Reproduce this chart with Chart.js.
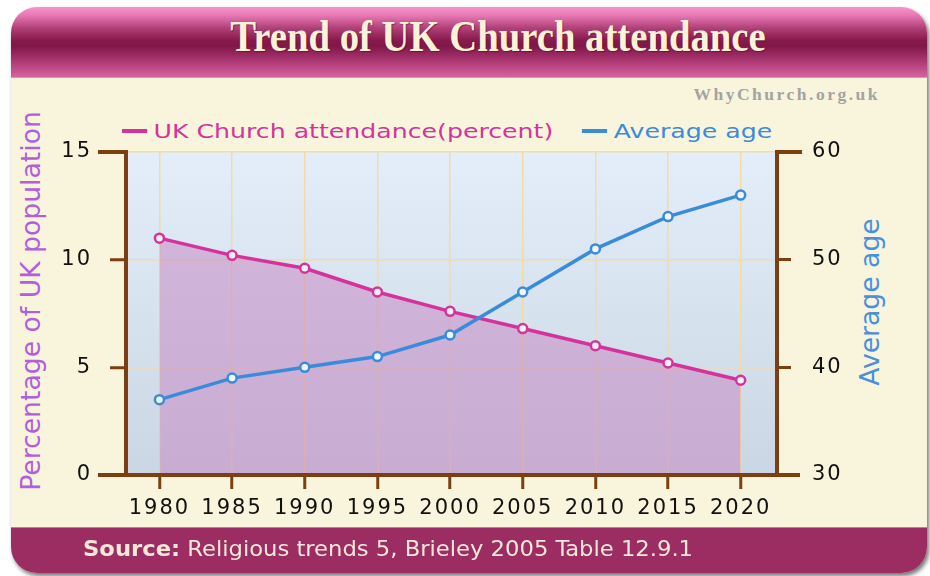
<!DOCTYPE html>
<html>
<head>
<meta charset="utf-8">
<title>Trend of UK Church attendance</title>
<script src="https://cdn.jsdelivr.net/npm/chart.js@4.4.1/dist/chart.umd.min.js"></script>
<style>
  html, body { margin: 0; padding: 0; background: #ffffff; }
  #page { position: relative; width: 930px; height: 576px; overflow: hidden; }
  #frame {
    position: absolute; left: 11px; top: 7px; width: 916px; height: 566px;
    border-radius: 26px; overflow: hidden; background: #f8f5dc;
    box-shadow: 2px 3px 4px rgba(0, 0, 0, 0.55);
  }
  #header {
    position: absolute; left: 0; top: 0; width: 100%; height: 70px;
    background: linear-gradient(to bottom, #f894c9 0%, #e878b4 12%, #b04077 30%, #87194c 48%, #7f1747 56%, #a8346f 75%, #d463a0 100%);
    border-bottom: 1px solid #e88fbf;
  }
  #footer {
    position: absolute; left: 0; bottom: 0; width: 100%; height: 45px;
    background: #9b2d62; border-top: 1px solid #c9779a;
  }
  #title {
    position: absolute; left: 498px; top: 14px; white-space: nowrap;
    font-family: "Liberation Serif", "Times New Roman", serif; font-weight: bold;
    font-size: 45px; line-height: 45px; color: #fcf3d6;
    transform: translateX(-50%) scaleX(0.86);
    text-shadow: 1px 1px 1px rgba(70, 0, 30, 0.45);
  }
  #watermark {
    position: absolute; right: 50px; top: 86px; white-space: nowrap;
    font-family: "Liberation Serif", serif; font-weight: bold;
    font-size: 17.5px; line-height: 17px; letter-spacing: 2.5px; color: #a3a3a3;
  }
  #legend {
    position: absolute; left: 122px; top: 121px; display: flex; gap: 23px;
    font-family: "DejaVu Sans", sans-serif; font-size: 20px; line-height: 20px;
    white-space: nowrap; transform: scaleX(1.26); transform-origin: 0 0;
  }
  .legend-item { display: flex; align-items: center; }
  .legend-marker { display: inline-block; width: 20px; height: 4px; margin-right: 5px; }
  .axisTitle {
    position: absolute; white-space: nowrap;
    font-family: "DejaVu Sans", sans-serif; font-size: 24px; line-height: 24px;
  }
  #leftTitle { left: 31px; top: 301px; color: #b15fdc; transform: translate(-50%, -50%) rotate(-90deg) scale(1.11, 1.12); }
  #rightTitle { left: 870px; top: 302px; color: #4a90dc; transform: translate(-50%, -50%) rotate(-90deg) scale(1.11, 1.12); }
  #myChart { position: absolute; left: 0; top: 0; }
  #source {
    position: absolute; left: 83px; top: 539px; white-space: nowrap;
    font-family: "DejaVu Sans Condensed", "DejaVu Sans", sans-serif; font-stretch: condensed;
    font-size: 21px; line-height: 21px; color: #f6e8d8;
    transform: scaleX(1.2); transform-origin: 0 0;
  }
</style>
</head>
<body>
<div id="page">
  <div id="frame">
    <div id="header"></div>
    <div id="footer"></div>
  </div>
  <div id="title">Trend of UK Church attendance</div>
  <div id="watermark">WhyChurch.org.uk</div>
  <div id="legend"></div>
  <div id="leftTitle" class="axisTitle">Percentage of UK population</div>
  <div id="rightTitle" class="axisTitle">Average age</div>
  <canvas id="myChart" width="930" height="576"></canvas>
  <div id="source"><b>Source:</b> Religious trends 5, Brieley 2005 Table 12.9.1</div>
</div>

<script>
//
// Data
//

var years = [1980, 1985, 1990, 1995, 2000, 2005, 2010, 2015, 2020];
var attendance = [11.0, 10.2, 9.6, 8.5, 7.6, 6.8, 6.0, 5.2, 4.4];
var averageAge = [37, 39, 40, 41, 43, 47, 51, 54, 56];

var seriesNames = ['UK Church attendance(percent)', 'Average age'];
var percentTicks = [0, 5, 10, 15];
var ageTicks = [30, 40, 50, 60];

// Colors
var pink = '#d5339b';
var blue = '#3b8bdb';
var brown = '#7b3f12';
var gridBeige = '#f3dba3';


//
// Methods
//

/**
 * Pair the years with a series for the linear x axis
 */
function toPoints(values) {
    return years.map(function (year, index) {
        return { x: year, y: values[index] };
    });
};


/**
 * Plot background, axis bracket ends and wider tick text
 */
var chartDecor = {
    id: 'chartDecor',
    beforeDraw: function (chart) {
        var a = chart.chartArea;
        var ctx = chart.ctx;
        var gradient = ctx.createLinearGradient(0, a.top, 0, a.bottom);
        gradient.addColorStop(0, '#e3eefa');
        gradient.addColorStop(1, '#cad6e3');
        ctx.save();
        ctx.fillStyle = gradient;
        ctx.fillRect(a.left, a.top, a.right - a.left, a.bottom - a.top);
        ctx.restore();
        ctx.letterSpacing = '2px';
    },
    afterDraw: function (chart) {
        var a = chart.chartArea;
        var ctx = chart.ctx;
        ctx.letterSpacing = '0px';
        ctx.save();
        ctx.strokeStyle = brown;
        ctx.lineWidth = 4;
        ctx.beginPath();
        ctx.moveTo(a.left - 28, a.top);
        ctx.lineTo(a.left + 2, a.top);
        ctx.moveTo(a.right - 2, a.top);
        ctx.lineTo(a.right + 25, a.top);
        ctx.moveTo(a.left - 28, a.bottom);
        ctx.lineTo(a.right + 23, a.bottom);
        ctx.stroke();
        ctx.restore();
    }
};


/**
 * Build the legend above the plot from the datasets
 */
function renderLegend(chart) {
    var legend = document.querySelector('#legend');
    legend.innerHTML = '';
    chart.data.datasets.forEach(function (dataset) {
        var item = document.createElement('span');
        item.className = 'legend-item';
        item.style.color = dataset.borderColor;
        item.innerHTML = '<span class="legend-marker" style="background:' + dataset.borderColor + '"></span>' + dataset.label;
        legend.appendChild(item);
    });
};


var tickFont = { family: 'DejaVu Sans', size: 21 };

var ctx = document.querySelector('#myChart').getContext('2d');
var chart = new Chart(ctx, {
    type: 'line',
    data: {
        datasets: [{
            label: seriesNames[0],
            data: toPoints(attendance),
            yAxisID: 'y',
            order: 1,
            borderColor: pink,
            borderWidth: 3.5,
            fill: 'origin',
            backgroundColor: 'rgba(199, 130, 191, 0.5)',
            pointRadius: 4.5,
            pointBorderWidth: 2.5,
            pointBackgroundColor: '#f6efff',
            pointBorderColor: pink,
            tension: 0
        }, {
            label: seriesNames[1],
            data: toPoints(averageAge),
            yAxisID: 'y1',
            order: 0,
            borderColor: blue,
            borderWidth: 3.5,
            fill: false,
            pointRadius: 4.5,
            pointBorderWidth: 2.5,
            pointBackgroundColor: '#eef6ff',
            pointBorderColor: blue,
            tension: 0
        }]
    },
    options: {
        responsive: false,
        animation: false,
        layout: { padding: { top: 152, left: 0, right: 0, bottom: 0 } },
        plugins: {
            legend: { display: false },
            title: { display: false },
            tooltip: { enabled: false }
        },
        scales: {
            x: {
                type: 'linear',
                min: 1977.7,
                max: 2022.5,
                afterBuildTicks: function (scale) {
                    scale.ticks = years.map(function (year) { return { value: year }; });
                },
                afterFit: function (scale) { scale.height = 101; },
                ticks: {
                    autoSkip: false,
                    maxRotation: 0,
                    padding: 7,
                    color: '#111111',
                    font: tickFont,
                    callback: function (value) { return String(value); }
                },
                grid: {
                    color: gridBeige,
                    lineWidth: 1.5,
                    tickColor: brown,
                    tickLength: 14,
                    tickWidth: 3
                },
                border: { color: brown, width: 4 }
            },
            y: {
                position: 'left',
                min: percentTicks[0],
                max: percentTicks[percentTicks.length - 1],
                afterBuildTicks: function (scale) {
                    scale.ticks = percentTicks.map(function (v) { return { value: v }; });
                },
                afterFit: function (scale) { scale.width = 126; },
                ticks: { padding: 18, color: '#111111', font: tickFont },
                grid: {
                    color: gridBeige,
                    lineWidth: 1.5,
                    tickColor: brown,
                    tickLength: 16,
                    tickWidth: 3
                },
                border: { color: brown, width: 4 }
            },
            y1: {
                position: 'right',
                min: ageTicks[0],
                max: ageTicks[ageTicks.length - 1],
                afterBuildTicks: function (scale) {
                    scale.ticks = ageTicks.map(function (v) { return { value: v }; });
                },
                afterFit: function (scale) { scale.width = 153; },
                ticks: { padding: 21, color: '#111111', font: tickFont },
                grid: {
                    drawOnChartArea: false,
                    tickColor: brown,
                    tickLength: 14,
                    tickWidth: 3
                },
                border: { color: brown, width: 4 }
            }
        }
    },
    plugins: [chartDecor]
});

renderLegend(chart);
</script>
</body>
</html>
